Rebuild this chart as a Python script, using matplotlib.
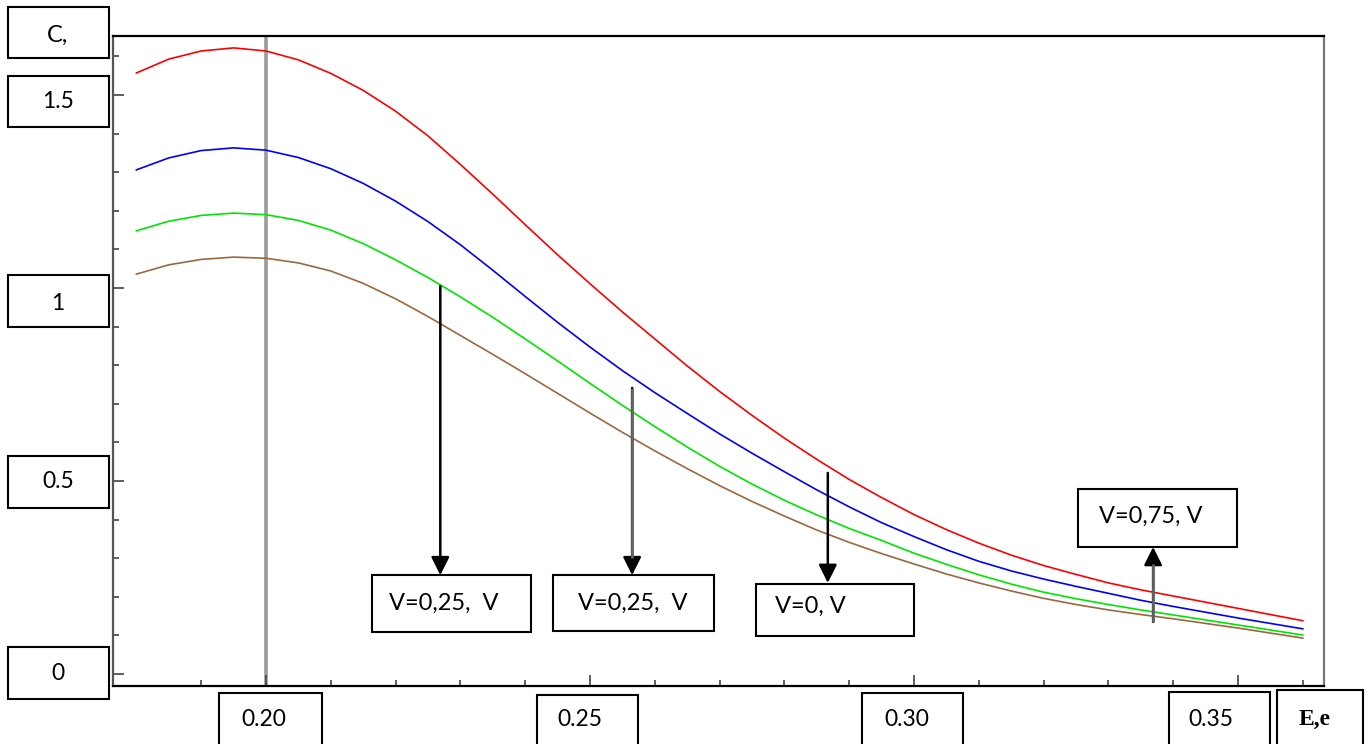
import numpy as np
import matplotlib
matplotlib.use("Agg")
from matplotlib import pyplot as plt
from matplotlib.patches import Rectangle

W, H = 1371, 744

# valores (E,e no eixo x, C no eixo y), passo 0.005
e_vals = [0.180, 0.185, 0.190, 0.195, 0.200, 0.205, 0.210, 0.215, 0.220, 0.225, 0.230, 0.235,
          0.240, 0.245, 0.250, 0.255, 0.260, 0.265, 0.270, 0.275, 0.280, 0.285, 0.290, 0.295,
          0.300, 0.305, 0.310, 0.315, 0.320, 0.325, 0.330, 0.335, 0.340, 0.345, 0.350, 0.355, 0.360]
c_red = [1.557, 1.593, 1.614, 1.622, 1.614, 1.591, 1.556, 1.512, 1.458, 1.394, 1.320, 1.243,
         1.164, 1.086, 1.011, 0.938, 0.868, 0.798, 0.732, 0.670, 0.611, 0.556, 0.504, 0.457,
         0.413, 0.374, 0.339, 0.308, 0.281, 0.258, 0.236, 0.218, 0.202, 0.186, 0.170, 0.154, 0.138]
c_blue = [1.306, 1.337, 1.356, 1.363, 1.357, 1.338, 1.309, 1.271, 1.225, 1.172, 1.112, 1.046,
          0.978, 0.911, 0.847, 0.786, 0.729, 0.675, 0.622, 0.572, 0.524, 0.477, 0.433, 0.392,
          0.356, 0.322, 0.292, 0.267, 0.246, 0.227, 0.209, 0.191, 0.175, 0.160, 0.145, 0.131, 0.117]
c_green = [1.148, 1.173, 1.188, 1.194, 1.190, 1.175, 1.150, 1.115, 1.073, 1.027, 0.977, 0.924,
           0.868, 0.811, 0.753, 0.696, 0.641, 0.588, 0.538, 0.492, 0.450, 0.412, 0.377, 0.346,
           0.313, 0.284, 0.257, 0.233, 0.212, 0.195, 0.180, 0.166, 0.153, 0.140, 0.127, 0.114, 0.101]
c_brown = [1.036, 1.060, 1.074, 1.080, 1.077, 1.065, 1.044, 1.012, 0.972, 0.926, 0.877, 0.828,
           0.778, 0.727, 0.676, 0.626, 0.578, 0.532, 0.488, 0.447, 0.409, 0.373, 0.341, 0.312,
           0.285, 0.259, 0.236, 0.215, 0.196, 0.180, 0.166, 0.154, 0.143, 0.131, 0.119, 0.106, 0.093]

x_tick_labels = ["0.20", "0.25", "0.30", "0.35"]
y_tick_labels = ["0", "0.5", "1", "1.5"]

# setas: x, inicio, ponta, texto
arrow_x = [0.2269, 0.2565, 0.2867, 0.3369]
arrow_from = [1.005, 0.741, 0.521, 0.135]
arrow_to = [0.256, 0.256, 0.236, 0.329]
arrow_text = ["V=0,25,  V", "V=0,25,  V", "V=0, V", "V=0,75, V"]

plt.rcParams['font.family'] = ['Lato', 'DejaVu Sans']

fig = plt.figure(figsize=(W / 100, H / 100), dpi=100)
ax = fig.add_axes([113 / W, 1 - 686 / H, (1324 - 113) / W, (686 - 36) / H])

ax.axvline(0.20, color="#9a9a9a", lw=2.6, zorder=1)
ax.plot(e_vals, c_red, color="#ff0000", lw=1.2, zorder=2)
ax.plot(e_vals, c_blue, color="#0000ff", lw=1.2, zorder=2)
ax.plot(e_vals, c_green, color="#00e600", lw=1.2, zorder=2)
ax.plot(e_vals, c_brown, color="#9a6840", lw=1.2, zorder=2)

ax.set_xlim(0.17639, 0.36327)
ax.set_ylim(-0.0311, 1.6528)

ax.set_xticks([0.20, 0.25, 0.30, 0.35])
ax.set_xticks(np.arange(0.19, 0.365, 0.01), minor=True)
ax.set_yticks([0, 0.5, 1.0, 1.5])
ax.set_yticks(np.arange(0, 1.65, 0.1), minor=True)
ax.tick_params(which="both", direction="in", labelbottom=False, labelleft=False,
               color="#444444", width=1.2)
ax.tick_params(which="major", length=8)
ax.tick_params(which="minor", length=4.5)

for s in ["top", "bottom"]:
    ax.spines[s].set_color("black")
    ax.spines[s].set_linewidth(1.6)
ax.spines["left"].set_color("#555555")
ax.spines["left"].set_linewidth(1.6)
ax.spines["right"].set_color("#777777")
ax.spines["right"].set_linewidth(1.6)

for i in range(len(arrow_x)):
    ax.annotate("", xy=(arrow_x[i], arrow_to[i]), xytext=(arrow_x[i], arrow_from[i]),
                arrowprops=dict(arrowstyle="-|>,head_length=0.5,head_width=0.25",
                                color="black", lw=1.8, mutation_scale=22,
                                shrinkA=0, shrinkB=0), zorder=5)
    if i in (1, 3):
        # haste cinza, ponta preta
        d = 0.045 if arrow_to[i] < arrow_from[i] else -0.045
        ax.plot([arrow_x[i], arrow_x[i]], [arrow_from[i], arrow_to[i] + d],
                color="#666666", lw=2, solid_capstyle="butt", zorder=6)


def box(x0, y0, x1, y1, label, tx, ty, ha="center", **kw):
    # caixa em pixels (origem no canto superior esquerdo)
    fig.patches.append(Rectangle((x0 / W, 1 - y1 / H), (x1 - x0) / W, (y1 - y0) / H,
                                 transform=fig.transFigure, fill=False,
                                 edgecolor="black", lw=1.5))
    fig.text(tx / W, 1 - ty / H, label, ha=ha, va="center", fontsize=kw.pop("fontsize", 16.5), **kw)


# rotulos do eixo y
box(8, 7, 109, 58, "C,", 58, 35, fontsize=17)
y_boxes = [(647, 699, 674), (456, 508, 482), (275, 327, 303), (76, 127, 102)]
for lab, (a, b, t) in zip(y_tick_labels, y_boxes):
    box(8, a, 109, b, lab, 58, t)

# rotulos do eixo x
x_boxes = [(219, 322, 693, 264), (537, 638, 695, 580), (862, 963, 693, 907), (1169, 1270, 692, 1211)]
for lab, (a, b, top, t) in zip(x_tick_labels, x_boxes):
    box(a, top, b, 760, lab, t, 719)
box(1277, 690, 1363, 760, "E,e", 1315, 719, family="Liberation Serif",
    fontweight="bold", fontsize=17)

# caixas das setas
arrow_boxes = [(372, 575, 531, 632, 389, 603), (553, 575, 714, 631, 578, 603),
               (756, 584, 914, 636, 775, 606), (1078, 489, 1237, 547, 1099, 516)]
for lab, (a, b, c, d, tx, ty) in zip(arrow_text, arrow_boxes):
    box(a, b, c, d, lab, tx, ty, ha="left", fontsize=17)

fig.savefig("out.png", dpi=100)
